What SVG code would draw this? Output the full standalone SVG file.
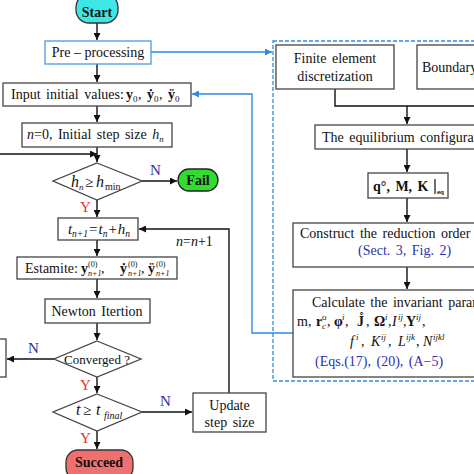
<svg xmlns="http://www.w3.org/2000/svg" width="474" height="474" viewBox="0 0 474 474" xml:space="preserve">
<defs>
<marker id="ah" viewBox="0 0 10 10" refX="10" refY="5" markerWidth="7" markerHeight="7" markerUnits="userSpaceOnUse" orient="auto"><path d="M0,0 L10,5 L0,10 Z" fill="#111"/></marker>
<marker id="ahb" viewBox="0 0 10 10" refX="10" refY="5" markerWidth="7" markerHeight="7" markerUnits="userSpaceOnUse" orient="auto"><path d="M0,0 L10,5 L0,10 Z" fill="#2f8be0"/></marker>
<style>
text{font-family:"Liberation Serif","Times New Roman",serif;font-size:14px;fill:#111}
.box{fill:#fff;stroke:#444;stroke-width:1.3}
.c{text-anchor:middle}
.b{font-weight:bold}
.i{font-style:italic}
.s{font-size:9px}
.t{font-size:8px}
.ln{fill:none;stroke:#111;stroke-width:1.4}
.bl{fill:none;stroke:#2f8be0;stroke-width:1.4}
.N{fill:#2c2ca8;font-size:15px}
.Y{fill:#e03030;font-size:15px}
.blue{fill:#3030b0}
</style>
</defs>
<rect width="474" height="474" fill="#fff"/>
<g id="panel"><rect x="273" y="41" width="210" height="340" fill="none" stroke="#2f8be0" stroke-width="1.3" stroke-dasharray="4,2"/></g>
<g id="connectors">
<path class="ln" d="M97,23 V40" marker-end="url(#ah)"/>
<path class="ln" d="M97,64 V82" marker-end="url(#ah)"/>
<path class="ln" d="M97,106 V122" marker-end="url(#ah)"/>
<path class="ln" d="M97,147 V162" marker-end="url(#ah)"/>
<path class="ln" d="M0,154 H97" marker-end="url(#ah)"/>
<path class="ln" d="M142,181 H177" marker-end="url(#ah)"/>
<path class="ln" d="M97,200 V217" marker-end="url(#ah)"/>
<path class="ln" d="M97,240 V256" marker-end="url(#ah)"/>
<path class="ln" d="M97,279 V298" marker-end="url(#ah)"/>
<path class="ln" d="M97,323 V340" marker-end="url(#ah)"/>
<path class="ln" d="M54,359 H7" marker-end="url(#ah)"/>
<path class="ln" d="M97,377 V393" marker-end="url(#ah)"/>
<path class="ln" d="M142,412 H192" marker-end="url(#ah)"/>
<path class="ln" d="M97,431 V449" marker-end="url(#ah)"/>
<path class="ln" d="M229,393 V229 H139" marker-end="url(#ah)"/>
<path class="bl" d="M151,52 H272" marker-end="url(#ahb)"/>
<path class="bl" d="M293,333 H252 V94 H192" marker-end="url(#ahb)"/>
<path class="ln" d="M335,89 V106 H480"/>
<path class="ln" d="M407,106 V124" marker-end="url(#ah)"/>
<path class="ln" d="M407,149 V172" marker-end="url(#ah)"/>
<path class="ln" d="M407,198 V222" marker-end="url(#ah)"/>
<path class="ln" d="M407,267 V289" marker-end="url(#ah)"/>
</g>
<g id="labels">
<text class="N" x="150" y="175">N</text>
<text class="Y" x="80" y="212">Y</text>
<text x="176" y="246"><tspan class="i">n</tspan>=<tspan class="i">n</tspan>+1</text>
<text class="N" x="28" y="353">N</text>
<text class="Y" x="80" y="390">Y</text>
<text class="N" x="160" y="406">N</text>
<text class="Y" x="80" y="443">Y</text>
</g>
<g id="start">
<rect x="76" y="-6" width="42" height="29" rx="13" fill="#3fe6e6" stroke="#333" stroke-width="1.3"/>
<text class="c b" x="97" y="17">Start</text>
</g>
<g id="preprocessing">
<rect x="45" y="41" width="106" height="23" fill="#fff" stroke="#4a9ae0" stroke-width="1.3"/>
<text class="c" x="98" y="57">Pre – processing</text>
</g>
<g id="input">
<rect class="box" x="3" y="83" width="188" height="23"/>
<text x="11" y="99" style="word-spacing:2px">Input initial values:</text>
<text class="b" x="126" y="99">y</text><text class="s" x="133" y="102">0</text><text x="138" y="99">,</text>
<text class="b" x="147" y="99">ẏ</text><text class="s" x="154" y="102">0</text><text x="159" y="99">,</text>
<text class="b" x="168" y="99">ÿ</text><text class="s" x="175" y="102">0</text>
</g>
<g id="init">
<rect class="box" x="22" y="123" width="150" height="24"/>
<text x="27" y="139" style="word-spacing:2px"><tspan class="i">n</tspan>=0, Initial step size <tspan class="i">h</tspan><tspan class="s i" dy="3">n</tspan></text>
</g>
<g id="check-h">
<polygon points="97,163 142,181 97,200 53,181" fill="#fff" stroke="#444" stroke-width="1.3"/>
<text class="i" x="71" y="187" style="font-size:16px">h</text><text class="s i" x="79" y="190">n</text>
<text x="85" y="187" style="font-size:15px">≥</text>
<text class="i" x="96" y="187" style="font-size:16px">h</text><text x="105" y="190" style="font-size:10px">min</text>
</g>
<g id="fail">
<rect x="178" y="169" width="40" height="22" rx="11" fill="#30dd30" stroke="#222" stroke-width="1.3"/>
<text class="c b" x="198" y="185">Fail</text>
</g>
<g id="time">
<rect class="box" x="58" y="218" width="80" height="22"/>
<text class="c" x="99" y="234" style="font-size:15px"><tspan class="i">t</tspan><tspan class="i" style="font-size:9.5px" dy="3">n+1</tspan><tspan dy="-3" dx="1">=</tspan><tspan class="i" dx="1">t</tspan><tspan class="i" style="font-size:9.5px" dy="3">n</tspan><tspan dy="-3" dx="1">+</tspan><tspan class="i" dx="1">h</tspan><tspan class="i" style="font-size:9.5px" dy="3">n</tspan></text>
</g>
<g id="estimate">
<rect class="box" x="17" y="257" width="160" height="22"/>
<text x="25" y="273">Estamite:</text>
<text class="b" x="81" y="273">y</text><text class="t" x="88" y="267">(0)</text><text class="t i" x="88" y="276">n+1</text><text x="101" y="273">,</text>
<text class="b" x="120" y="273">ẏ</text><text class="t" x="128" y="267">(0)</text><text class="t i" x="128" y="276">n+1</text><text x="141" y="273">,</text>
<text class="b" x="148" y="273">ÿ</text><text class="t" x="156" y="267">(0)</text><text class="t i" x="156" y="276">n+1</text>
</g>
<g id="newton">
<rect class="box" x="45" y="299" width="105" height="24"/>
<text class="c" x="97" y="316" style="word-spacing:2px">Newton Itertion</text>
</g>
<g id="converged">
<polygon points="97,341 141,359 97,377 54,359" fill="#fff" stroke="#444" stroke-width="1.3"/>
<text class="c" x="97" y="364" style="font-size:13px">Converged ?</text>
</g>
<g id="left-box"><rect class="box" x="-20" y="339" width="26" height="38"/></g>
<g id="check-t">
<polygon points="97,394 142,412 97,431 53,412" fill="#fff" stroke="#444" stroke-width="1.3"/>
<text class="i" x="76" y="415" style="font-size:16px">t</text>
<text x="83" y="415" style="font-size:15px">≥</text>
<text class="i" x="96" y="415" style="font-size:16px">t</text>
<text class="i" x="104" y="419" style="font-size:10px">final</text>
</g>
<g id="update">
<rect class="box" x="193" y="393" width="73" height="39"/>
<text class="c" x="229.5" y="410">Update</text>
<text class="c" x="229.5" y="427" style="word-spacing:2px">step size</text>
</g>
<g id="succeed">
<rect x="66" y="450" width="67" height="30" rx="12" fill="#f07070" stroke="#333" stroke-width="1.3"/>
<text class="c b" x="99" y="467">Succeed</text>
</g>
<g id="finite">
<rect class="box" x="276" y="45" width="118" height="44"/>
<text class="c" x="335" y="63" style="word-spacing:2px">Finite element</text>
<text class="c" x="335" y="81">discretization</text>
</g>
<g id="boundary">
<rect class="box" x="417" y="45" width="80" height="44"/>
<text x="422" y="72">Boundary conditions</text>
</g>
<g id="equilibrium">
<rect class="box" x="315" y="125" width="180" height="24"/>
<text x="322" y="142" style="word-spacing:2px">The equilibrium configuration</text>
</g>
<g id="qmk">
<rect class="box" x="368" y="173" width="80" height="25"/>
<text class="b" x="373" y="191" style="word-spacing:2px">q°, M, K</text>
<path d="M435,179 V194" stroke="#111" stroke-width="1.2"/>
<text class="b" x="437" y="194" style="font-size:7px">eq</text>
</g>
<g id="construct">
<rect class="box" x="293" y="223" width="200" height="44"/>
<text x="300" y="238" style="word-spacing:2px">Construct the reduction order basis</text>
<text class="blue" x="358" y="255" style="word-spacing:2px">(Sect. 3, Fig. 2)</text>
</g>
<g id="calculate">
<rect class="box" x="293" y="290" width="200" height="87"/>
<text x="312" y="307" style="word-spacing:2px">Calculate the invariant parameters</text>
<text x="297" y="326">m,</text>
<text class="b" x="316" y="326">r</text><text class="s" x="322" y="320">o</text><text class="s i" x="322" y="329">c</text><text x="327" y="326">,</text>
<text class="b" x="334" y="326">φ</text><text class="s i" x="342" y="320">i</text><text x="345" y="326">,</text>
<text class="b" x="357" y="326">J̊</text><text x="366" y="326">,</text>
<text class="b" x="374" y="326">Ω</text><text class="s i" x="385" y="320">i</text><text x="388" y="326">,</text>
<text class="i" x="392" y="326">I</text><text class="s i" x="398" y="320">ij</text><text x="403" y="326">,</text>
<text class="b" x="406" y="326">Υ</text><text class="s i" x="416" y="320">ij</text><text x="422" y="326">,</text>
<text class="i" x="350" y="346">f</text><text class="s i" x="356" y="340">i</text><text x="361" y="346">,</text>
<text class="i" x="371" y="346">K</text><text class="s i" x="381" y="340">ij</text><text x="388" y="346">,</text>
<text class="i" x="398" y="346">L</text><text class="s i" x="406" y="340">ijk</text><text x="416" y="346">,</text>
<text class="i" x="423" y="346">N</text><text class="s i" x="433" y="340">ijkl</text>
<text class="blue" x="315" y="366" style="word-spacing:2px">(Eqs.(17), (20), (A−5)</text>
</g>
</svg>
